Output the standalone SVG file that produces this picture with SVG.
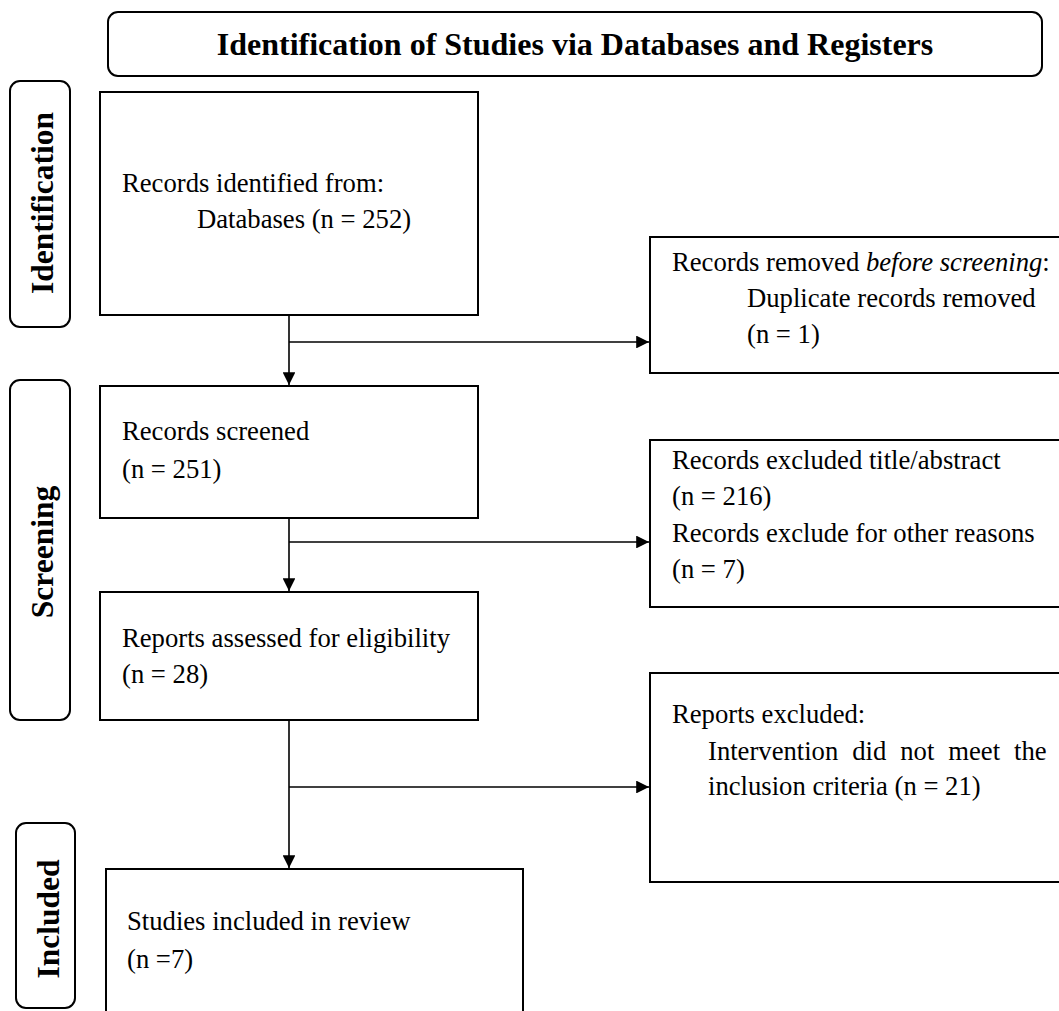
<svg xmlns="http://www.w3.org/2000/svg" width="1059" height="1011" viewBox="0 0 1059 1011">
<style>
.box{fill:#fff;stroke:#000;stroke-width:2}
.side{fill:#fff;stroke:#000;stroke-width:2}
.t{font-family:"Liberation Serif","Times New Roman",serif;font-size:26.67px;fill:#000}
.b{font-family:"Liberation Serif","Times New Roman",serif;font-size:31.5px;font-weight:bold;fill:#000}
.ln{fill:none;stroke:#000;stroke-width:1.6}
</style>
<defs>
<marker id="ah" viewBox="0 0 10 10" refX="10" refY="5" markerWidth="8" markerHeight="8" markerUnits="strokeWidth" orient="auto">
<path d="M0,0 L10,5 L0,10 Z" fill="#000"/>
</marker>
</defs>
<rect width="1059" height="1011" fill="#fff"/>
<g id="title">
<rect class="side" x="108" y="12" width="934" height="64" rx="10"/>
<text class="b" x="575" y="55" text-anchor="middle" style="font-size:32px">Identification of Studies via Databases and Registers</text>
</g>
<g id="phase-identification">
<rect class="side" x="10" y="81" width="60" height="246" rx="10"/>
<text class="b" transform="translate(53,203) rotate(-90)" text-anchor="middle">Identification</text>
</g>
<g id="phase-screening">
<rect class="side" x="10" y="380" width="60" height="340" rx="10"/>
<text class="b" transform="translate(53,552) rotate(-90)" text-anchor="middle">Screening</text>
</g>
<g id="phase-included">
<rect class="side" x="16" y="823" width="59" height="185" rx="10"/>
<text class="b" transform="translate(59,919) rotate(-90)" text-anchor="middle">Included</text>
</g>
<g id="connectors">
<line class="ln" x1="289" y1="315" x2="289" y2="385" marker-end="url(#ah)"/>
<line class="ln" x1="289" y1="342" x2="649" y2="342" marker-end="url(#ah)"/>
<line class="ln" x1="289" y1="518" x2="289" y2="591" marker-end="url(#ah)"/>
<line class="ln" x1="289" y1="542" x2="649" y2="542" marker-end="url(#ah)"/>
<line class="ln" x1="289" y1="720" x2="289" y2="868" marker-end="url(#ah)"/>
<line class="ln" x1="289" y1="787" x2="649" y2="787" marker-end="url(#ah)"/>
</g>
<g id="records-identified">
<rect class="box" x="100" y="92" width="378" height="223"/>
<text class="t" x="122" y="192">Records identified from:</text>
<text class="t" x="197" y="228">Databases (n = 252)</text>
</g>
<g id="records-removed">
<rect class="box" x="650" y="237" width="420" height="136"/>
<text class="t" x="672" y="271">Records removed <tspan font-style="italic">before screening</tspan>:</text>
<text class="t" x="747" y="307">Duplicate records removed</text>
<text class="t" x="747" y="343">(n = 1)</text>
</g>
<g id="records-screened">
<rect class="box" x="100" y="386" width="378" height="132"/>
<text class="t" x="122" y="440">Records screened</text>
<text class="t" x="122" y="478">(n = 251)</text>
</g>
<g id="records-excluded">
<rect class="box" x="650" y="440" width="420" height="167"/>
<text class="t" x="672" y="469">Records excluded title/abstract</text>
<text class="t" x="672" y="505">(n = 216)</text>
<text class="t" x="672" y="542">Records exclude for other reasons</text>
<text class="t" x="672" y="578">(n = 7)</text>
</g>
<g id="reports-assessed">
<rect class="box" x="100" y="592" width="378" height="128"/>
<text class="t" x="122" y="647">Reports assessed for eligibility</text>
<text class="t" x="122" y="683">(n = 28)</text>
</g>
<g id="reports-excluded">
<rect class="box" x="650" y="673" width="420" height="209"/>
<text class="t" x="672" y="723">Reports excluded:</text>
<text class="t" x="708" y="760" word-spacing="7.3">Intervention did not meet the</text>
<text class="t" x="708" y="795">inclusion criteria (n = 21)</text>
</g>
<g id="studies-included">
<rect class="box" x="106" y="869" width="417" height="150"/>
<text class="t" x="127" y="930">Studies included in review</text>
<text class="t" x="127" y="968">(n =7)</text>
</g>
</svg>
